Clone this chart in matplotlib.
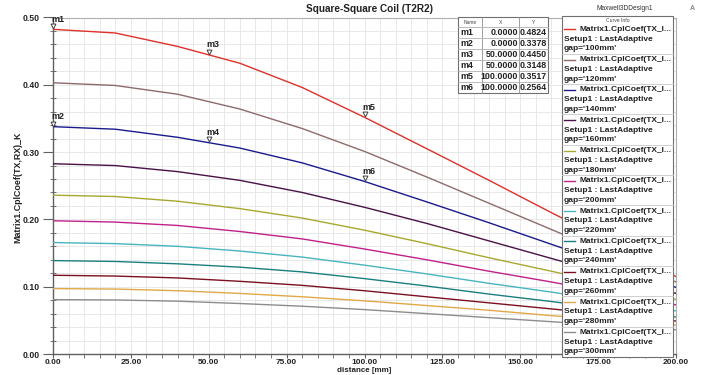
import matplotlib
matplotlib.use("Agg")
import matplotlib.pyplot as plt
from matplotlib.ticker import MultipleLocator, FormatStrFormatter
from matplotlib.transforms import offset_copy
from matplotlib.patches import Rectangle

plt.rcParams['font.family'] = ['Liberation Sans', 'DejaVu Sans']

# ---------------- data ----------------
distance = [0, 20, 40, 60, 80, 100, 120, 140, 160, 180, 200]
gaps = ["100mm", "120mm", "140mm", "160mm", "180mm", "200mm",
        "220mm", "240mm", "260mm", "280mm", "300mm"]
k_100 = [0.4824, 0.477, 0.457, 0.432, 0.396, 0.3517, 0.305, 0.258, 0.210, 0.163, 0.115]
k_120 = [0.403, 0.399, 0.386, 0.364, 0.335, 0.301, 0.263, 0.224, 0.185, 0.146, 0.107]
k_140 = [0.3378, 0.334, 0.322, 0.306, 0.284, 0.2564, 0.226, 0.195, 0.163, 0.131, 0.099]
k_160 = [0.2827, 0.280, 0.271, 0.258, 0.240, 0.218, 0.194, 0.168, 0.142, 0.116, 0.090]
k_180 = [0.236, 0.234, 0.227, 0.216, 0.202, 0.184, 0.164, 0.143, 0.123, 0.102, 0.081]
k_200 = [0.198, 0.196, 0.191, 0.182, 0.171, 0.156, 0.140, 0.123, 0.107, 0.090, 0.073]
k_220 = [0.1656, 0.164, 0.160, 0.153, 0.144, 0.132, 0.119, 0.105, 0.092, 0.078, 0.064]
k_240 = [0.1388, 0.1375, 0.134, 0.129, 0.122, 0.112, 0.101, 0.089, 0.078, 0.066, 0.055]
k_260 = [0.117, 0.1158, 0.113, 0.108, 0.102, 0.094, 0.085, 0.076, 0.067, 0.058, 0.049]
k_280 = [0.0972, 0.0965, 0.094, 0.090, 0.085, 0.079, 0.072, 0.065, 0.057, 0.050, 0.043]
k_300 = [0.0808, 0.0803, 0.0785, 0.075, 0.071, 0.066, 0.060, 0.054, 0.048, 0.042, 0.036]
series = [k_100, k_120, k_140, k_160, k_180, k_200, k_220, k_240, k_260, k_280, k_300]
colors = ['#E0302A', '#8E6A6A', '#1A1A8C', '#4A1048', '#A8A830', '#C0208A',
          '#48B4C0', '#1A7F80', '#7A1020', '#E0A848', '#8C8C8C']

marker_names = ["m1", "m2", "m3", "m4", "m5", "m6"]
marker_x = [0.0, 0.0, 50.0, 50.0, 100.0, 100.0]
marker_y = [0.4824, 0.3378, 0.4450, 0.3148, 0.3517, 0.2564]

title = "Square-Square Coil (T2R2)"
xlabel = "distance [mm]"
ylabel = "Matrix1.CplCoef(TX,RX)_K"

# ---------------- figure ----------------
W, H = 705, 375
fig = plt.figure(figsize=(W / 100, H / 100), dpi=100)
fig.patch.set_facecolor('white')

L, R, T, B = 53, 676, 17.5, 354
ax = fig.add_axes([L / W, (H - B) / H, (R - L) / W, (B - T) / H])
ax.set_xlim(0, 200)
ax.set_ylim(0, 0.5)

for ys, c in zip(series, colors):
    ax.plot(distance, ys, color=c, lw=1.0, zorder=3)

ax.xaxis.set_major_locator(MultipleLocator(25))
ax.xaxis.set_minor_locator(MultipleLocator(5))
ax.yaxis.set_major_locator(MultipleLocator(0.1))
ax.yaxis.set_minor_locator(MultipleLocator(0.02))
ax.xaxis.set_major_formatter(FormatStrFormatter('%.2f'))
ax.yaxis.set_major_formatter(FormatStrFormatter('%.2f'))
ax.grid(which='both', color='#E4E4E4', lw=0.6, zorder=0)
ax.set_axisbelow(True)

for lab in ax.get_xticklabels() + ax.get_yticklabels():
    lab.set_fontweight('bold')
ax.tick_params(axis='y', which='major', direction='out', length=7, width=0.8,
               colors='#606060', labelcolor='#222222', labelsize=6.2, pad=2.5)
ax.tick_params(axis='y', which='minor', direction='inout', length=5, width=0.6, colors='#606060')
ax.tick_params(axis='x', which='major', direction='out', length=3, width=0.8,
               colors='#606060', labelcolor='#222222', labelsize=6.0, pad=0.8)
ax.tick_params(axis='x', which='minor', direction='out', length=3, width=0.6, colors='#606060')

for s in ['left', 'bottom']:
    ax.spines[s].set_color('#606060')
    ax.spines[s].set_linewidth(1.0)
for s in ['top', 'right']:
    ax.spines[s].set_color('#B0B0B0')
    ax.spines[s].set_linewidth(0.8)

# markers
tri_tr = offset_copy(ax.transData, fig=fig, x=0, y=3, units='dots')
ax.plot(marker_x, marker_y, linestyle='none', marker='v', ms=3.5, mfc='white',
        mec='#404040', mew=0.7, transform=tri_tr, zorder=5, clip_on=False)
lab_tr = offset_copy(ax.transData, fig=fig, x=-2, y=10, units='dots')
for n, mx, my in zip(marker_names, marker_x, marker_y):
    ax.text(mx, my, n, transform=lab_tr, fontsize=6.5, fontweight='bold',
            color='#222222', ha='left', va='center', zorder=6, clip_on=False)

# texts
fig.text(370 / W, 1 - 9 / H, title, ha='center', va='center', fontsize=7.2,
         fontweight='bold', color='#222222')
fig.text(17.5 / W, 1 - 187.5 / H, ylabel, rotation=90, ha='center', va='center',
         fontsize=6.4, fontweight='bold', color='#222222')
fig.text(364 / W, 1 - 370.5 / H, xlabel, ha='center', va='center', fontsize=5.8,
         fontweight='bold', color='#222222')
fig.text(625 / W, 1 - 8.5 / H, "Maxwell3DDesign1", ha='center', va='center',
         fontsize=4.8, color='#333333')
fig.text(692 / W, 1 - 8.5 / H, "A", ha='center', va='center', fontsize=5,
         color='#888888', fontweight='bold')

# overlay in pixel coordinates for table and curve info
ov = fig.add_axes([0, 0, 1, 1], zorder=10)
ov.set_xlim(0, W)
ov.set_ylim(H, 0)
ov.axis('off')
ov.patch.set_visible(False)

# marker table
tx0, tx1, tx2, tx3 = 458, 482, 519, 548
ty0, thead, trow = 17, 27, 11.0
nrows = len(marker_names)
ov.add_patch(Rectangle((tx0, ty0), tx3 - tx0, thead - ty0 + trow * nrows,
                       facecolor='white', edgecolor='#707070', lw=0.8))
for xv in [tx1, tx2]:
    ov.plot([xv, xv], [ty0, thead + trow * nrows], color='#909090', lw=0.6)
for i in range(nrows):
    yv = thead + trow * i
    ov.plot([tx0, tx3], [yv, yv], color='#B0B0B0', lw=0.6)
ov.text((tx0 + tx1) / 2, (ty0 + thead) / 2, "Name", fontsize=3.5, ha='center', va='center', color='#444444')
ov.text((tx1 + tx2) / 2, (ty0 + thead) / 2, "X", fontsize=3.5, ha='center', va='center', color='#444444')
ov.text((tx2 + tx3) / 2, (ty0 + thead) / 2, "Y", fontsize=3.5, ha='center', va='center', color='#444444')
for i, (n, mx, my) in enumerate(zip(marker_names, marker_x, marker_y)):
    yc = thead + trow * i + trow / 2
    ov.text(tx0 + 2, yc, n, fontsize=6.4, fontweight='bold', ha='left', va='center', color='#222222')
    ov.text(tx2 - 1, yc, f"{mx:.4f}", fontsize=6.4, fontweight='bold', ha='right', va='center', color='#222222')
    ov.text(tx3 - 1, yc, f"{my:.4f}", fontsize=6.4, fontweight='bold', ha='right', va='center', color='#222222')

# curve info box
lx0, lx1, ly0, ly1 = 562, 673, 16, 357
ov.add_patch(Rectangle((lx0, ly0), lx1 - lx0, ly1 - ly0, facecolor='white',
                       edgecolor='#707070', lw=0.8))
ov.text((lx0 + lx1) / 2, 21, "Curve Info", fontsize=3.6, ha='center', va='center', color='#444444')
step = 30.3
for i, (g, c) in enumerate(zip(gaps, colors)):
    y1 = 29.3 + step * i
    ov.plot([564, 575], [y1, y1], color=c, lw=1.0)
    ov.text(579, y1, "Matrix1.CplCoef(TX_I...", fontsize=6.0, fontweight='bold',
            ha='left', va='center', color='#222222')
    ov.text(564, y1 + 9.8, "Setup1 : LastAdaptive", fontsize=6.0, fontweight='bold',
            ha='left', va='center', color='#222222')
    ov.text(564, y1 + 19.6, f"gap='{g}'", fontsize=6.0, fontweight='bold',
            ha='left', va='center', color='#222222')
    if i < len(gaps) - 1:
        ys = y1 + 24.5
        ov.plot([lx0, lx1], [ys, ys], color='#C8C8C8', lw=0.6)

fig.savefig("out.png", dpi=100, facecolor='white')
